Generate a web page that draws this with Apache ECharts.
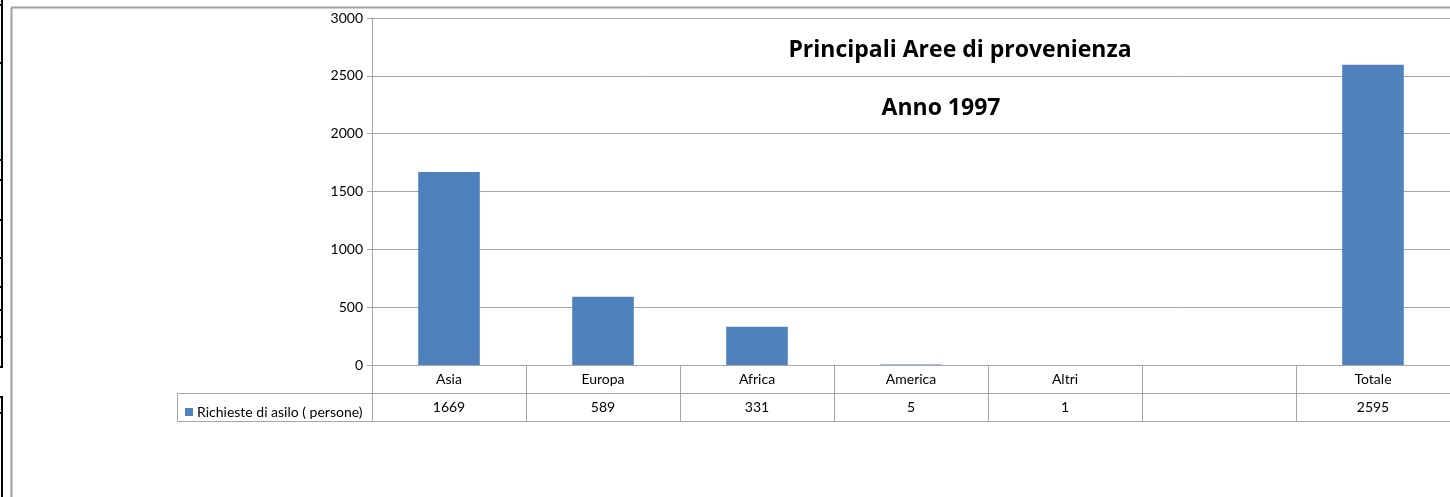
<!DOCTYPE html>
<html>
<head>
<meta charset="utf-8">
<script src="https://cdn.jsdelivr.net/npm/echarts@6/dist/echarts.min.js"></script>
<style>
  html, body { margin: 0; padding: 0; background: #fff; }
  #chart { width: 1450px; height: 497px; }
</style>
</head>
<body>
<div id="chart"></div>
<script>
// aree di provenienza (colonna vuota prima del totale)
const categories = ['Asia', 'Europa', 'Africa', 'America', 'Altri', '', 'Totale']
// richieste di asilo
const values = [1669, 589, 331, 5, 1, null, 2595]
const seriesName = 'Richieste di asilo ( persone)'
const titleLines = ['Principali Aree di provenienza', 'Anno 1997']
const yTicks = { min: 0, max: 3000, interval: 500 }

const gridColor = '#a6a6a6'
const font = 'Lato, "Open Sans", sans-serif'
const titleFont = '"Open Sans", Lato, sans-serif'

const chart = echarts.init(document.getElementById('chart'))

// bordi delle celle del foglio (a sinistra)
const sheetLine = (x1, y1, x2, y2, w) => ({
  type: 'line', silent: true,
  shape: { x1, y1, x2, y2 },
  style: { stroke: '#000', lineWidth: w || 2 }
})

const option = {
  animation: false,
  textStyle: { fontFamily: font },
  grid: { left: 372, right: -1, top: 18, bottom: 132, containLabel: false },
  legend: {
    data: [seriesName],
    left: 180, top: 400,
    icon: 'rect', itemWidth: 8, itemHeight: 8, itemGap: 4,
    textStyle: { fontSize: 14, color: '#000', fontFamily: font, padding: [0, 0, 0, -1] }
  },
  xAxis: [
    {
      type: 'category', data: categories, position: 'bottom',
      axisLine: { lineStyle: { color: gridColor, width: 1 } },
      axisTick: { show: true, length: 56, alignWithLabel: false, lineStyle: { color: gridColor } },
      axisLabel: { color: '#000', fontSize: 14, margin: 7, fontFamily: font }
    },
    {
      type: 'category', data: categories, position: 'bottom', offset: 28,
      axisLine: { lineStyle: { color: gridColor, width: 1 } },
      axisTick: { show: false },
      axisLabel: {
        color: '#000', fontSize: 14, margin: 7, fontFamily: font,
        formatter: (v, i) => values[i] == null ? '' : String(values[i])
      }
    },
    {
      type: 'category', data: categories, position: 'bottom', offset: 56,
      axisLine: { lineStyle: { color: gridColor, width: 1 } },
      axisTick: { show: false },
      axisLabel: { show: false }
    }
  ],
  yAxis: {
    type: 'value', min: yTicks.min, max: yTicks.max, interval: yTicks.interval,
    axisLine: { show: true, lineStyle: { color: gridColor } },
    axisTick: { show: true, length: 5, lineStyle: { color: gridColor } },
    axisLabel: { color: '#000', fontSize: 14, margin: 9, fontFamily: font, formatter: v => String(v) },
    splitLine: { lineStyle: { color: gridColor } }
  },
  series: [{
    name: seriesName,
    type: 'bar',
    data: values,
    barWidth: '40%',
    itemStyle: { color: '#4f81bd' }
  }],
  graphic: [
    // titolo
    {
      type: 'text', x: 960, y: 50, silent: true,
      style: { text: titleLines[0], font: 'bold 23px ' + titleFont, fill: '#000', align: 'center', verticalAlign: 'middle' }
    },
    {
      type: 'text', x: 941, y: 108, silent: true,
      style: { text: titleLines[1], font: 'bold 23px ' + titleFont, fill: '#000', align: 'center', verticalAlign: 'middle' }
    },
    // bordo dell'area del grafico
    {
      type: 'line', silent: true, shape: { x1: 11.5, y1: 8, x2: 11.5, y2: 497 },
      style: { stroke: '#a0a0a0', lineWidth: 2 }
    },
    {
      type: 'line', silent: true, shape: { x1: 11, y1: 7.5, x2: 1450, y2: 7.5 },
      style: { stroke: '#a0a0a0', lineWidth: 2 }
    },
    // cella della legenda nella tabella dati
    {
      type: 'polyline', silent: true,
      shape: { points: [[372, 393.5], [177.5, 393.5], [177.5, 421.5], [372, 421.5]] },
      style: { stroke: gridColor, lineWidth: 1, fill: null }
    },
    // bordi del foglio a sinistra
    { type: 'rect', silent: true, shape: { x: 0, y: 63, width: 2, height: 97 }, style: { fill: '#d8f4f8' } },
    sheetLine(2, 0, 2, 368),
    sheetLine(0, 5, 3, 5),
    sheetLine(0, 63, 3, 63),
    sheetLine(0, 160, 3, 160),
    sheetLine(0, 180, 3, 180),
    sheetLine(0, 220, 3, 220),
    sheetLine(0, 258, 3, 258),
    sheetLine(0, 287, 3, 287),
    sheetLine(0, 310, 3, 310),
    sheetLine(0, 337, 3, 337),
    sheetLine(0, 367, 3, 367),
    sheetLine(2, 396, 2, 497),
    sheetLine(0, 397, 3, 397),
    sheetLine(0, 413, 3, 413)
  ]
}

chart.setOption(option)
</script>
</body>
</html>
